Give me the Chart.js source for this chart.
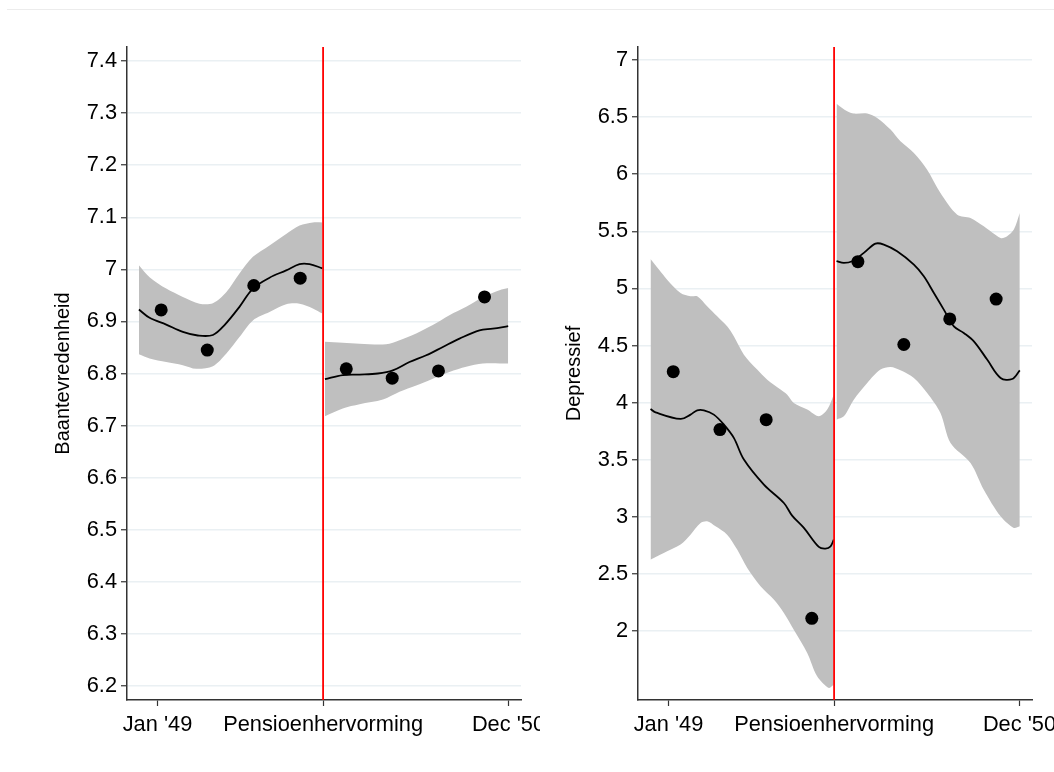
<!DOCTYPE html>
<html>
<head>
<meta charset="utf-8">
<script src="https://cdn.jsdelivr.net/npm/chart.js@4.4.1/dist/chart.umd.min.js"></script>
<style>
  html, body { margin: 0; padding: 0; background: #fff; }
  body { width: 1054px; height: 772px; position: relative; overflow: hidden; }
  .topline { position: absolute; left: 7px; top: 9px; width: 1047px; height: 1px; background: #ececec; }
  canvas { position: absolute; top: 0; }
  #satChart { left: 0; }
  #depChart { left: 511px; }
</style>
</head>
<body>
<div class="topline"></div>
<canvas id="satChart" width="540" height="772"></canvas>
<canvas id="depChart" width="543" height="772"></canvas>
<script>
// x axis: months, Jan '49 = 0
const xTickVals = [0, 10.85, 23];
const xTickLabels = ["Jan '49", 'Pensioenhervorming', "Dec '50"];
const reformX = 10.85;

// Baantevredenheid
const satTicks = [6.2, 6.3, 6.4, 6.5, 6.6, 6.7, 6.8, 6.9, 7.0, 7.1, 7.2, 7.3, 7.4];
const satPointX = [0.24, 3.26, 6.31, 9.35, 12.37, 15.38, 18.41, 21.43];
const satPointY = [6.922, 6.845, 6.969, 6.983, 6.809, 6.791, 6.805, 6.947];

const satPreX = [-1.22, -0.52, 0.57, 1.66, 2.64, 3.63, 4.39, 5.37, 6.25, 7.34, 8.43, 9.31, 9.96, 10.81];
const satPreY = [6.923, 6.907, 6.894, 6.880, 6.873, 6.874, 6.893, 6.928, 6.963, 6.984, 6.998, 7.010, 7.010, 7.002];
const satPreHiX = [-1.22, -0.52, 0.57, 1.66, 2.75, 3.63, 4.50, 5.37, 6.25, 7.34, 8.43, 9.31, 10.18, 10.81];
const satPreHiY = [7.008, 6.985, 6.963, 6.947, 6.934, 6.935, 6.956, 6.992, 7.024, 7.046, 7.068, 7.084, 7.090, 7.090];
const satPreLoX = [-1.22, -0.52, 0.57, 1.66, 2.53, 3.63, 4.50, 5.37, 6.25, 7.34, 8.43, 9.31, 10.18, 10.81];
const satPreLoY = [6.837, 6.829, 6.822, 6.816, 6.809, 6.814, 6.838, 6.870, 6.902, 6.918, 6.933, 6.934, 6.925, 6.915];

const satPostX = [10.97, 12.14, 13.24, 14.44, 15.42, 16.51, 17.61, 18.70, 19.79, 21.10, 21.97, 22.98];
const satPostY = [6.789, 6.797, 6.798, 6.800, 6.806, 6.822, 6.835, 6.851, 6.867, 6.883, 6.886, 6.891];
const satPostHiX = [10.97, 12.14, 13.24, 14.98, 15.86, 16.95, 18.04, 19.13, 20.23, 21.32, 22.41, 22.98];
const satPostHiY = [6.861, 6.859, 6.857, 6.856, 6.864, 6.877, 6.893, 6.912, 6.928, 6.947, 6.960, 6.964];
const satPostLoX = [10.97, 12.14, 13.24, 14.77, 15.86, 16.95, 18.04, 19.13, 20.23, 21.32, 22.98];
const satPostLoY = [6.718, 6.733, 6.741, 6.750, 6.765, 6.777, 6.790, 6.803, 6.813, 6.819, 6.819];

// Depressief
const depTicks = [2, 2.5, 3, 3.5, 4, 4.5, 5, 5.5, 6, 6.5, 7];
const depPointX = [0.31, 3.37, 6.40, 9.39, 12.41, 15.42, 18.43, 21.47];
const depPointY = [4.271, 3.764, 3.851, 2.111, 5.234, 4.509, 4.733, 4.907];

const depPreX = [-1.18, -0.85, 0.79, 1.44, 1.88, 2.32, 2.97, 3.63, 4.28, 4.94, 6.25, 7.56, 8.10, 8.87, 9.85, 10.29, 10.62, 10.83];
const depPreY = [3.945, 3.915, 3.857, 3.895, 3.933, 3.933, 3.895, 3.807, 3.691, 3.501, 3.282, 3.121, 3.011, 2.903, 2.736, 2.722, 2.742, 2.800];
const depPreHiX = [-1.18, -0.63, -0.09, 0.79, 1.44, 1.88, 2.53, 3.19, 3.84, 4.28, 4.94, 5.81, 6.47, 7.34, 7.78, 8.21, 9.09, 9.85, 10.40, 10.83];
const depPreHiY = [5.258, 5.165, 5.077, 4.960, 4.931, 4.931, 4.844, 4.756, 4.668, 4.581, 4.420, 4.289, 4.201, 4.114, 4.070, 3.997, 3.939, 3.880, 3.939, 4.070];
const depPreLoX = [-1.18, -0.74, -0.09, 0.79, 1.44, 2.10, 2.53, 3.08, 3.84, 4.50, 5.16, 6.03, 6.90, 7.56, 8.21, 9.09, 9.74, 10.51, 10.83];
const depPreLoY = [2.625, 2.654, 2.698, 2.757, 2.844, 2.946, 2.961, 2.917, 2.844, 2.713, 2.552, 2.392, 2.275, 2.158, 2.012, 1.808, 1.604, 1.501, 1.531];

const depPostX = [11.01, 11.49, 12.04, 12.80, 13.56, 14.11, 14.98, 16.08, 16.73, 17.39, 18.04, 18.70, 19.35, 20.01, 20.88, 21.76, 22.52, 23.02];
const depPostY = [5.238, 5.223, 5.238, 5.311, 5.392, 5.384, 5.325, 5.208, 5.106, 4.960, 4.814, 4.668, 4.610, 4.537, 4.377, 4.216, 4.207, 4.283];
const depPostHiX = [11.01, 11.71, 12.14, 13.02, 13.67, 14.55, 15.20, 16.08, 16.95, 17.82, 18.92, 19.79, 20.66, 21.76, 22.19, 22.63, 23.02];
const depPostHiY = [6.618, 6.551, 6.531, 6.531, 6.493, 6.391, 6.288, 6.186, 6.040, 5.836, 5.646, 5.617, 5.544, 5.442, 5.457, 5.515, 5.661];
const depPostLoX = [11.01, 11.49, 12.14, 13.02, 13.89, 14.55, 15.20, 16.08, 16.95, 17.82, 18.48, 19.79, 20.66, 21.76, 22.63, 23.02];
const depPostLoY = [3.851, 3.880, 4.026, 4.172, 4.289, 4.312, 4.283, 4.216, 4.085, 3.910, 3.647, 3.472, 3.238, 3.005, 2.903, 2.917];

const FONT = '"Liberation Sans", Arial, Helvetica, sans-serif';
const AXIS_COLOR = '#333333';
const GRID_COLOR = '#eaf0f3';
const BAND_COLOR = '#bfbfbf';

const pts = (xs, ys) => xs.map((x, i) => ({ x: x, y: ys[i] }));

// band edges: the upper edge fills down to the next dataset (its lower edge)
function bandEdge(data, fill) {
  return {
    data: data, showLine: true, borderWidth: 0, pointRadius: 0,
    fill: fill, backgroundColor: BAND_COLOR, borderColor: 'rgba(0,0,0,0)',
    tension: 0.3, order: 3,
  };
}

function lineSet(data) {
  return {
    data: data, showLine: true, borderWidth: 1.8, borderColor: '#000',
    pointRadius: 0, fill: false, tension: 0.35, order: 2,
  };
}

function makePanel(id, p) {
  new Chart(document.getElementById(id), {
    type: 'scatter',
    data: {
      datasets: [
        {
          data: pts(p.pointX, p.pointY), pointRadius: 6.5, pointHoverRadius: 6.5,
          backgroundColor: '#000', borderColor: '#000', borderWidth: 0, order: 0,
        },
        {
          data: [{ x: reformX, y: p.min }, { x: reformX, y: p.max }],
          showLine: true, borderColor: '#ff0000', borderWidth: 1.8, pointRadius: 0, order: 1,
        },
        lineSet(pts(p.preX, p.preY)),
        lineSet(pts(p.postX, p.postY)),
        bandEdge(pts(p.preHiX, p.preHiY), '+1'),
        bandEdge(pts(p.preLoX, p.preLoY), false),
        bandEdge(pts(p.postHiX, p.postHiY), '+1'),
        bandEdge(pts(p.postLoX, p.postLoY), false),
      ],
    },
    options: {
      responsive: false,
      animation: false,
      devicePixelRatio: 1,
      layout: { padding: { left: 47, top: 47, right: p.padRight, bottom: 0 } },
      plugins: { legend: { display: false }, tooltip: { enabled: false } },
      scales: {
        x: {
          type: 'linear', min: -2.0, max: 23.82,
          afterBuildTicks: (s) => { s.ticks = xTickVals.map(v => ({ value: v })); },
          afterFit: (s) => { s.height = 72; s.paddingLeft = 0; s.paddingRight = 0; },
          ticks: {
            autoSkip: false, maxRotation: 0, padding: 6, color: '#000',
            font: { family: FONT, size: 21.8 },
            callback: (v, i) => xTickLabels[i],
          },
          grid: { drawOnChartArea: false, tickLength: 6, tickColor: AXIS_COLOR, tickWidth: 1.2 },
          border: { color: AXIS_COLOR, width: 1.5 },
        },
        y: {
          type: 'linear', min: p.min, max: p.max,
          afterBuildTicks: (s) => { s.ticks = p.ticks.map(v => ({ value: v })); },
          afterFit: (s) => { s.width = 80; s.paddingTop = 0; s.paddingBottom = 0; },
          ticks: {
            autoSkip: false, padding: 4, color: '#000',
            font: { family: FONT, size: 21.8 },
            callback: (v) => String(Math.round(v * 10) / 10),
          },
          grid: { color: GRID_COLOR, lineWidth: 1.5, tickLength: 6, tickColor: AXIS_COLOR, tickWidth: 1.2 },
          border: { color: AXIS_COLOR, width: 1.5 },
          title: {
            display: true, text: p.title, color: '#000',
            font: { family: FONT, size: 20 }, padding: { top: 4, bottom: 0 },
          },
        },
      },
    },
  });
}

makePanel('satChart', {
  title: 'Baantevredenheid', min: 6.173, max: 7.427, ticks: satTicks, padRight: 19,
  pointX: satPointX, pointY: satPointY,
  preX: satPreX, preY: satPreY, postX: satPostX, postY: satPostY,
  preHiX: satPreHiX, preHiY: satPreHiY, preLoX: satPreLoX, preLoY: satPreLoY,
  postHiX: satPostHiX, postHiY: satPostHiY, postLoX: satPostLoX, postLoY: satPostLoY,
});

makePanel('depChart', {
  title: 'Depressief', min: 1.396, max: 7.114, ticks: depTicks, padRight: 22,
  pointX: depPointX, pointY: depPointY,
  preX: depPreX, preY: depPreY, postX: depPostX, postY: depPostY,
  preHiX: depPreHiX, preHiY: depPreHiY, preLoX: depPreLoX, preLoY: depPreLoY,
  postHiX: depPostHiX, postHiY: depPostHiY, postLoX: depPostLoX, postLoY: depPostLoY,
});
</script>
</body>
</html>
